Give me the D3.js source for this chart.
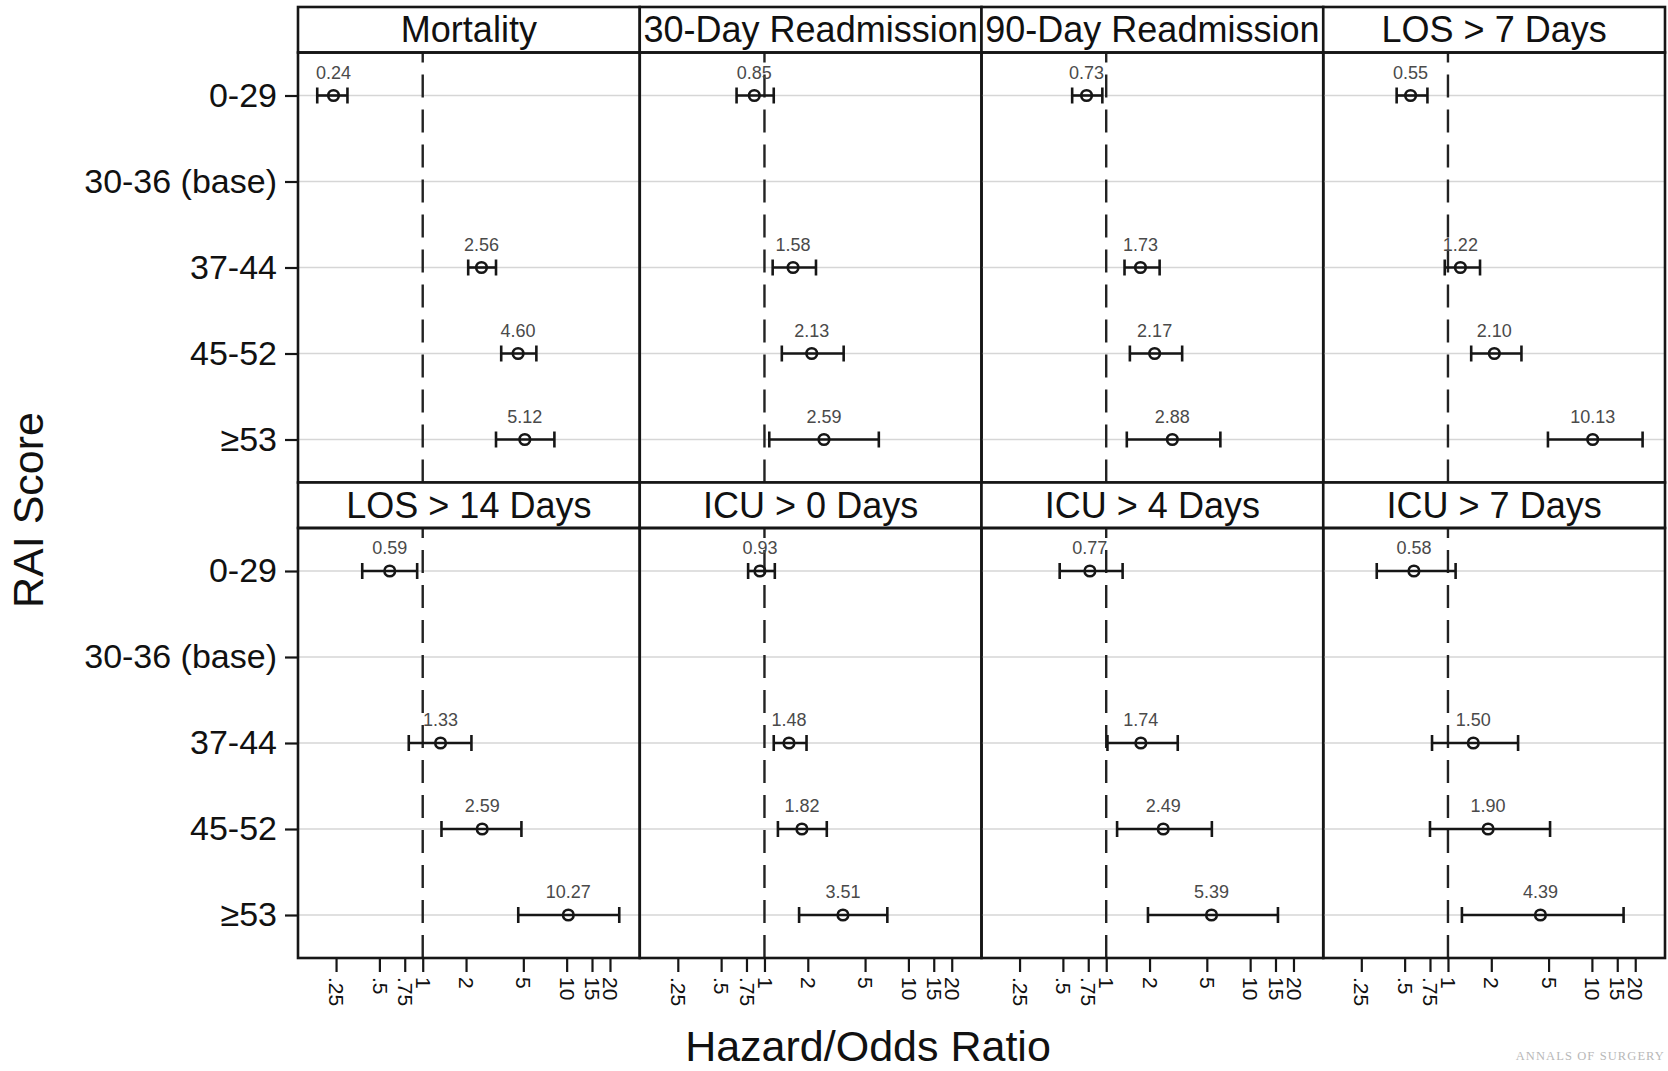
<!DOCTYPE html>
<html>
<head>
<meta charset="utf-8">
<script src="https://cdn.jsdelivr.net/npm/d3@7"></script>
<style>
  body { margin: 0; background: #fff; }
  text { font-family: "Liberation Sans", Arial, sans-serif; fill: #111; }
</style>
</head>
<body>
<script>
// panel titles, in reading order (4 per row)
var outcomes = ["Mortality", "30-Day Readmission", "90-Day Readmission", "LOS > 7 Days",
                "LOS > 14 Days", "ICU > 0 Days", "ICU > 4 Days", "ICU > 7 Days"];
var raiGroups = ["0-29", "30-36 (base)", "37-44", "45-52", "\u226553"];

// point estimates (null = base category)
var estimates = [
  [0.24, null, 2.56, 4.60, 5.12],
  [0.85, null, 1.58, 2.13, 2.59],
  [0.73, null, 1.73, 2.17, 2.88],
  [0.55, null, 1.22, 2.10, 10.13],
  [0.59, null, 1.33, 2.59, 10.27],
  [0.93, null, 1.48, 1.82, 3.51],
  [0.77, null, 1.74, 2.49, 5.39],
  [0.58, null, 1.50, 1.90, 4.39]
];
// 95% CI
var lowerCI = [
  [0.185, null, 2.07, 3.51, 3.23],
  [0.64, null, 1.14, 1.32, 1.08],
  [0.58, null, 1.34, 1.46, 1.39],
  [0.44, null, 0.95, 1.45, 4.95],
  [0.38, null, 0.80, 1.35, 4.61],
  [0.77, null, 1.16, 1.24, 1.74],
  [0.475, null, 1.02, 1.19, 1.95],
  [0.32, null, 0.775, 0.75, 1.25]
];
var upperCI = [
  [0.30, null, 3.23, 6.16, 8.22],
  [1.16, null, 2.28, 3.55, 6.23],
  [0.94, null, 2.35, 3.37, 6.21],
  [0.72, null, 1.67, 3.24, 22.5],
  [0.915, null, 2.18, 4.85, 23.2],
  [1.18, null, 1.96, 2.71, 7.14],
  [1.30, null, 3.14, 5.42, 15.6],
  [1.13, null, 3.07, 5.12, 16.6]
];

var tickValues = [0.25, 0.5, 0.75, 1, 2, 5, 10, 15, 20];
var tickLabels = [".25", ".5", ".75", "1", "2", "5", "10", "15", "20"];

// layout
var w = 1668;
var h = 1071;
var padLeft = 298;
var padTop = 7;
var panelW = 341.75;
var stripH = 45.5;
var plotH = 430;
var rowH = stripH + plotH;
var ink = "#161616";

var svg = d3.select("body")
      .append("svg")
      .attr("width", w)
      .attr("height", h);

// scales shared by every panel
var xScale = d3.scaleLog()
      .domain([0.136, 32.2])
      .range([0, panelW]);

var yScale = d3.scalePoint()
      .domain(raiGroups)
      .range([0, plotH])
      .padding(0.5);

var fmt = d3.format(".2f");

outcomes.forEach(function(name, i) {
  var col = i % 4;
  var row = Math.floor(i / 4);
  var g = svg.append("g")
        .attr("transform", "translate(" + (padLeft + col * panelW) + "," + (padTop + row * rowH) + ")");

  // strip with title
  g.append("rect")
        .attr("width", panelW)
        .attr("height", stripH)
        .attr("fill", "#fff")
        .attr("stroke", ink)
        .attr("stroke-width", 2.6);
  g.append("text")
        .attr("x", panelW / 2)
        .attr("y", stripH / 2)
        .attr("dy", "0.35em")
        .attr("text-anchor", "middle")
        .attr("font-size", "36px")
        .text(name);

  var p = g.append("g").attr("transform", "translate(0," + stripH + ")");

  // light gridlines at each group
  p.selectAll("line.grid")
        .data(raiGroups)
        .enter()
        .append("line")
        .attr("class", "grid")
        .attr("x1", 0)
        .attr("x2", panelW)
        .attr("y1", function(d) { return yScale(d); })
        .attr("y2", function(d) { return yScale(d); })
        .attr("stroke", "#d6d6d6")
        .attr("stroke-width", 1.3);

  // reference line at 1
  p.append("line")
        .attr("x1", xScale(1))
        .attr("x2", xScale(1))
        .attr("y1", 0)
        .attr("y2", plotH)
        .attr("stroke", "#222")
        .attr("stroke-width", 2.4)
        .attr("stroke-dasharray", "23,12")
        .attr("stroke-dashoffset", 13);

  var pts = raiGroups.map(function(grp, j) {
    return { grp: grp, est: estimates[i][j], lo: lowerCI[i][j], hi: upperCI[i][j] };
  }).filter(function(d) { return d.est !== null; });

  var bars = p.selectAll("g.bar")
        .data(pts)
        .enter()
        .append("g")
        .attr("class", "bar");

  bars.append("line")
        .attr("x1", function(d) { return xScale(d.lo); })
        .attr("x2", function(d) { return xScale(d.hi); })
        .attr("y1", function(d) { return yScale(d.grp); })
        .attr("y2", function(d) { return yScale(d.grp); })
        .attr("stroke", ink)
        .attr("stroke-width", 2.6);

  // whisker caps
  ["lo", "hi"].forEach(function(k) {
    bars.append("line")
          .attr("x1", function(d) { return xScale(d[k]); })
          .attr("x2", function(d) { return xScale(d[k]); })
          .attr("y1", function(d) { return yScale(d.grp) - 8; })
          .attr("y2", function(d) { return yScale(d.grp) + 8; })
          .attr("stroke", ink)
          .attr("stroke-width", 2.6);
  });

  bars.append("circle")
        .attr("cx", function(d) { return xScale(d.est); })
        .attr("cy", function(d) { return yScale(d.grp); })
        .attr("r", 5.3)
        .attr("fill", "none")
        .attr("stroke", ink)
        .attr("stroke-width", 2.6);

  bars.append("text")
        .attr("x", function(d) { return xScale(d.est); })
        .attr("y", function(d) { return yScale(d.grp) - 17; })
        .attr("text-anchor", "middle")
        .attr("font-size", "18px")
        .style("fill", "#4a4a4a")
        .text(function(d) { return fmt(d.est); });

  // panel frame
  p.append("rect")
        .attr("width", panelW)
        .attr("height", plotH)
        .attr("fill", "none")
        .attr("stroke", ink)
        .attr("stroke-width", 2.6);

  // y axis on the left column
  if (col === 0) {
    var yAxis = d3.axisLeft(yScale)
          .tickSize(13)
          .tickPadding(8);
    var ya = p.append("g").call(yAxis);
    ya.select(".domain").remove();
    ya.selectAll(".tick line").attr("stroke", ink).attr("stroke-width", 2.2);
    ya.selectAll(".tick text")
          .attr("font-size", "34px")
          .attr("font-family", "Liberation Sans, Arial, sans-serif")
          .style("fill", "#111");
  }

  // x axis under the bottom row, labels turned 90 degrees
  if (row === 1) {
    var xAxis = d3.axisBottom(xScale)
          .tickValues(tickValues)
          .tickSize(13)
          .tickFormat(function(d, k) { return tickLabels[k]; });
    var xa = p.append("g")
          .attr("transform", "translate(0," + (plotH + 1) + ")")
          .call(xAxis);
    xa.select(".domain").remove();
    xa.selectAll(".tick line").attr("stroke", ink).attr("stroke-width", 2.2);
    xa.selectAll(".tick text")
          .attr("font-size", "21px")
          .attr("font-family", "Liberation Sans, Arial, sans-serif")
          .style("fill", "#111")
          .attr("text-anchor", "start")
          .attr("transform", "rotate(90)")
          .attr("x", 18)
          .attr("y", 0)
          .attr("dy", "0.35em");
  }
});

// axis titles
svg.append("text")
      .attr("transform", "translate(43,510) rotate(-90)")
      .attr("text-anchor", "middle")
      .attr("font-size", "43px")
      .text("RAI Score");

svg.append("text")
      .attr("x", 868)
      .attr("y", 1061)
      .attr("text-anchor", "middle")
      .attr("font-size", "43px")
      .text("Hazard/Odds Ratio");

// journal watermark, bottom right corner
svg.append("text")
      .attr("x", 1665)
      .attr("y", 1060)
      .attr("text-anchor", "end")
      .attr("font-size", "12.5px")
      .attr("letter-spacing", "1.1px")
      .style("font-family", "Liberation Serif, serif")
      .style("fill", "#b8b8b8")
      .text("ANNALS OF SURGERY");
</script>
</body>
</html>
